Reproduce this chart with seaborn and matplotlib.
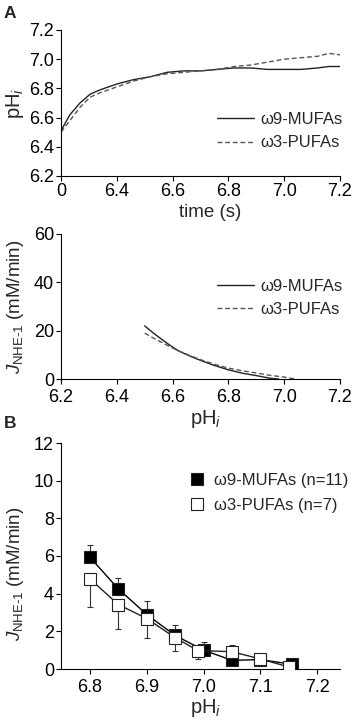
import numpy as np
import pandas as pd
import matplotlib
matplotlib.use("Agg")
import matplotlib.pyplot as plt
from matplotlib.lines import Line2D
import seaborn as sns

# ---------------- data ----------------
# Panel A (top): pHi recovery traces
trace_x = [6.200, 6.232, 6.268, 6.304, 6.340, 6.400, 6.460, 6.520, 6.580, 6.640,
           6.700, 6.760, 6.820, 6.880, 6.940, 7.000, 7.060, 7.120, 7.160, 7.200]
mufa_phi = [6.51, 6.62, 6.70, 6.76, 6.79, 6.83, 6.86, 6.88, 6.91, 6.92,
            6.92, 6.93, 6.94, 6.94, 6.93, 6.93, 6.93, 6.94, 6.95, 6.95]
pufa_phi = [6.50, 6.58, 6.67, 6.74, 6.77, 6.81, 6.85, 6.88, 6.90, 6.91,
            6.92, 6.93, 6.95, 6.96, 6.98, 7.00, 7.01, 7.02, 7.04, 7.03]
time_ticks = [6.2, 6.4, 6.6, 6.8, 7.0, 7.2]
time_ticklabels = ["0", "6.4", "6.6", "6.8", "7.0", "7.2"]
phi_ticks = [6.2, 6.4, 6.6, 6.8, 7.0, 7.2]

# Panel A (middle): fitted JNHE-1 vs pHi
mufa_fit_ph = [6.50, 6.53, 6.56, 6.59, 6.62, 6.66, 6.70, 6.75, 6.80, 6.85, 6.90, 6.95, 6.98]
mufa_fit_j = [22.0, 19.1, 16.5, 14.0, 11.7, 9.6, 7.7, 5.6, 3.8, 2.4, 1.4, 0.3, 0.0]
pufa_fit_ph = [6.50, 6.53, 6.56, 6.59, 6.62, 6.66, 6.70, 6.75, 6.80, 6.85, 6.90, 6.95, 7.00, 7.04]
pufa_fit_j = [19.0, 17.0, 15.2, 13.4, 11.7, 9.8, 8.0, 6.1, 4.5, 3.4, 2.5, 1.5, 0.8, 0.0]
fit_xticks = [6.2, 6.4, 6.6, 6.8, 7.0, 7.2]
fit_yticks = [0, 20, 40, 60]

# Panel B: mean JNHE-1 with SEM
mufa_ph = [6.80, 6.85, 6.90, 6.95, 7.00, 7.05, 7.10, 7.155]
mufa_j = [5.93, 4.25, 2.89, 1.78, 1.00, 0.46, 0.50, 0.25]
mufa_err_up = [0.63, 0.58, 0.74, 0.58, 0.44, 0.0, 0.0, 0.0]
pufa_ph = [6.80, 6.85, 6.90, 6.95, 6.99, 7.05, 7.10, 7.15]
pufa_j = [4.78, 3.42, 2.68, 1.66, 0.98, 0.92, 0.53, 0.11]
pufa_err_dn = [1.50, 1.27, 1.02, 0.71, 0.45, 0.0, 0.0, 0.0]
pufa_err_up = [0.0, 0.0, 0.0, 0.0, 0.0, 0.35, 0.0, 0.0]
b_xticks = [6.8, 6.9, 7.0, 7.1, 7.2]
b_yticks = [0, 2, 4, 6, 8, 10, 12]

lab_mufa = "ω9-MUFAs"
lab_pufa = "ω3-PUFAs"

# ---------------- style ----------------
sns.set_theme(style="ticks")
plt.rcParams["font.family"] = ["Liberation Sans", "DejaVu Sans"]
plt.rcParams["mathtext.fontset"] = "custom"
plt.rcParams["mathtext.rm"] = "Liberation Sans"
plt.rcParams["mathtext.it"] = "Liberation Sans:italic"
plt.rcParams["axes.linewidth"] = 0.8
plt.rcParams["xtick.major.width"] = 0.8
plt.rcParams["ytick.major.width"] = 0.8
plt.rcParams["xtick.major.size"] = 3.5
plt.rcParams["ytick.major.size"] = 3.5
plt.rcParams["xtick.direction"] = "out"
plt.rcParams["ytick.direction"] = "out"

TICK_FS = 13
LAB_FS = 13.5
LEG_FS = 12

W, H = 355, 723
fig = plt.figure(figsize=(W / 100, H / 100), dpi=100)


def add_ax(left, right, top, bottom):
    return fig.add_axes([left / W, 1 - bottom / H, (right - left) / W, (bottom - top) / H])


axA = add_ax(61, 340, 30, 176)
axF = add_ax(61, 340, 234, 379)
axB = add_ax(61, 340, 443, 669)

for ax in (axA, axF, axB):
    sns.despine(ax=ax)
    ax.tick_params(labelsize=TICK_FS, colors="black", pad=1.5)
    for s in ax.spines.values():
        s.set_color("black")
axF.tick_params(axis="x", pad=3.5)
axB.tick_params(axis="x", pad=4)

# ---- Panel A top ----
dfA = pd.DataFrame({"x": trace_x, "m": mufa_phi, "p": pufa_phi})
sns.lineplot(data=dfA, x="x", y="m", ax=axA, color="#222222", lw=1.0,
             estimator=None, sort=False, label=lab_mufa)
sns.lineplot(data=dfA, x="x", y="p", ax=axA, color="#555555", lw=1.0,
             linestyle=(0, (3.5, 2)), estimator=None, sort=False, label=lab_pufa)
axA.set_xlim(6.2, 7.2)
axA.set_ylim(6.2, 7.2)
axA.set_xticks(time_ticks)
axA.set_xticklabels(time_ticklabels)
axA.set_yticks(phi_ticks)
axA.set_yticklabels([f"{v:.1f}" for v in phi_ticks])
axA.set_xlabel("time (s)", fontsize=LAB_FS)
axA.xaxis.set_label_coords(0.535, -0.19)
axA.set_ylabel(r"pH$_i$", fontsize=LAB_FS + 1)
axA.yaxis.set_label_coords(-0.125, 0.5)
axA.legend(loc="upper left", bbox_to_anchor=(217 / W, 1 - 112 / H),
           bbox_transform=fig.transFigure, frameon=False, fontsize=LEG_FS,
           handlelength=2.2, handletextpad=0.4, labelspacing=0.5,
           borderpad=0, borderaxespad=0)

# ---- Panel A middle ----
dfFm = pd.DataFrame({"x": mufa_fit_ph, "y": mufa_fit_j})
dfFp = pd.DataFrame({"x": pufa_fit_ph, "y": pufa_fit_j})
sns.lineplot(data=dfFm, x="x", y="y", ax=axF, color="#222222", lw=1.0,
             estimator=None, sort=False, label=lab_mufa)
sns.lineplot(data=dfFp, x="x", y="y", ax=axF, color="#555555", lw=1.0,
             linestyle=(0, (3.5, 2)), estimator=None, sort=False, label=lab_pufa)
axF.set_xlim(6.2, 7.2)
axF.set_ylim(0, 60)
axF.set_xticks(fit_xticks)
axF.set_xticklabels([f"{v:.1f}" for v in fit_xticks])
axF.set_yticks(fit_yticks)
axF.set_xlabel(r"pH$_i$", fontsize=LAB_FS + 1)
axF.xaxis.set_label_coords(0.52, -0.2)
axF.set_ylabel(r"$\mathit{J}_{\mathrm{NHE‐1}}$ (mM/min)", fontsize=LAB_FS)
axF.yaxis.set_label_coords(-0.125, 0.5)
axF.legend(loc="upper left", bbox_to_anchor=(217 / W, 1 - 279 / H),
           bbox_transform=fig.transFigure, frameon=False, fontsize=LEG_FS,
           handlelength=2.2, handletextpad=0.4, labelspacing=0.45,
           borderpad=0, borderaxespad=0)

# ---- Panel B ----
dfBm = pd.DataFrame({"x": mufa_ph, "y": mufa_j})
dfBp = pd.DataFrame({"x": pufa_ph, "y": pufa_j})
axB.errorbar(mufa_ph, mufa_j, yerr=[np.zeros(len(mufa_j)), mufa_err_up], fmt="none",
             ecolor="#333333", elinewidth=0.8, capsize=2, capthick=0.8, zorder=2)
axB.errorbar(pufa_ph, pufa_j, yerr=[pufa_err_dn, pufa_err_up], fmt="none",
             ecolor="#333333", elinewidth=0.8, capsize=2, capthick=0.8, zorder=2)
sns.lineplot(data=dfBm, x="x", y="y", ax=axB, color="black", lw=1.0,
             marker="s", markersize=9, markerfacecolor="black",
             markeredgecolor="#222222", markeredgewidth=0.8,
             estimator=None, sort=False, zorder=3)
sns.lineplot(data=dfBp, x="x", y="y", ax=axB, color="#222222", lw=1.0,
             marker="s", markersize=9, markerfacecolor="white",
             markeredgecolor="#222222", markeredgewidth=0.8,
             estimator=None, sort=False, zorder=4)
axB.set_xlim(6.749, 7.24)
axB.set_ylim(0, 12)
axB.set_xticks(b_xticks)
axB.set_xticklabels([f"{v:.1f}" for v in b_xticks])
axB.set_yticks(b_yticks)
axB.set_xlabel(r"pH$_i$", fontsize=LAB_FS + 1)
axB.xaxis.set_label_coords(0.52, -0.125)
axB.set_ylabel(r"$\mathit{J}_{\mathrm{NHE‐1}}$ (mM/min)", fontsize=LAB_FS)
axB.yaxis.set_label_coords(-0.125, 0.42)
hB = [Line2D([], [], ls="none", marker="s", markersize=9, markerfacecolor="black",
             markeredgecolor="#222222", markeredgewidth=0.8),
      Line2D([], [], ls="none", marker="s", markersize=9, markerfacecolor="white",
             markeredgecolor="#222222", markeredgewidth=0.8)]
axB.legend(hB, [lab_mufa + " (n=11)", lab_pufa + " (n=7)"], loc="upper left",
           bbox_to_anchor=(189 / W, 1 - 473 / H), bbox_transform=fig.transFigure,
           frameon=False, fontsize=LEG_FS, handlelength=1.0, handletextpad=0.5,
           labelspacing=0.6, borderpad=0, borderaxespad=0)

# panel letters
fig.text(4 / W, 1 - 14 / H, "A", fontsize=12.5, fontweight="bold", va="center")
fig.text(4 / W, 1 - 424 / H, "B", fontsize=12.5, fontweight="bold", va="center")

fig.savefig("out.png", dpi=100, facecolor="white")
